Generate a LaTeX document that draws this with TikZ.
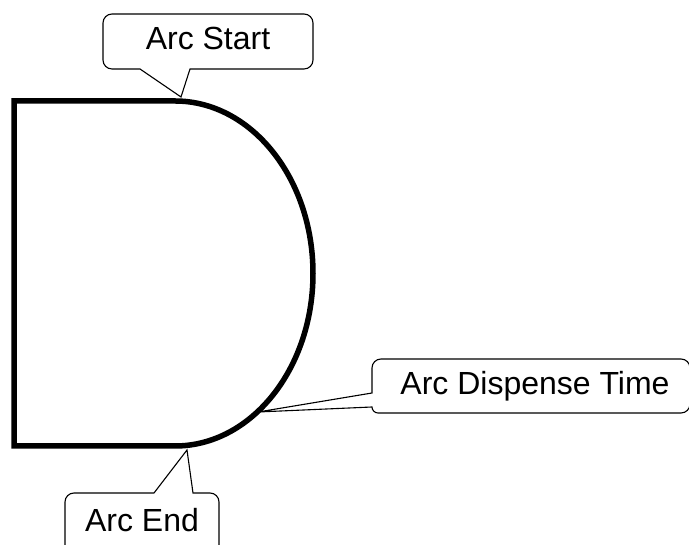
\documentclass[tikz,border=0pt]{standalone}
\usepackage{fontspec}
\setmainfont{Liberation Sans}

\begin{document}
\begin{tikzpicture}[
  x=1pt,y=1pt,
  outline/.style={
    draw,
    line width=5.5pt
  },
  bubble/.style={
    draw,
    line width=1.1pt,
    rounded corners=9pt
  },
  callouttext/.style={
    anchor=base,
    inner sep=0pt,
    font=\fontsize{32}{38}\selectfont
  }
]
  \useasboundingbox (0,0) rectangle (689,545);
  \clip (0,0) rectangle (689,545);
  % the D-shaped path
  \draw[outline] (175,99) -- (14,99) -- (14,444) -- (175,444)
    arc[start angle=90, end angle=-90, x radius=138, y radius=172.5] -- cycle;
  \coordinate (starttip) at (181,448);
  \coordinate (dispensetip) at (258,133);
  \coordinate (endtip) at (187,95);
  % callouts
  \draw[bubble] (208,531) -- (103,531) -- (103,476) [sharp corners] -- (140,476)
    -- (starttip) -- (190,476) [rounded corners=9pt] -- (313,476) -- (313,531) -- cycle;
  \node[callouttext] (arcstart) at (208,495) {Arc Start};
  \draw[bubble] (530,186) -- (372,186) [sharp corners] -- (372,152)
    -- (dispensetip) -- (372,138) [rounded corners=6pt] -- (372,132)
    [rounded corners=9pt] -- (690,132) -- (690,186) -- cycle;
  \node[callouttext] (arcdispense) at (535,150) {Arc Dispense Time};
  \draw[bubble] (65,-20) -- (65,52) [sharp corners] -- (154,52)
    -- (endtip) -- (193,52) [rounded corners=9pt] -- (219,52) -- (219,-20);
  \node[callouttext] (arcend) at (142,13) {Arc End};
\end{tikzpicture}
\end{document}
